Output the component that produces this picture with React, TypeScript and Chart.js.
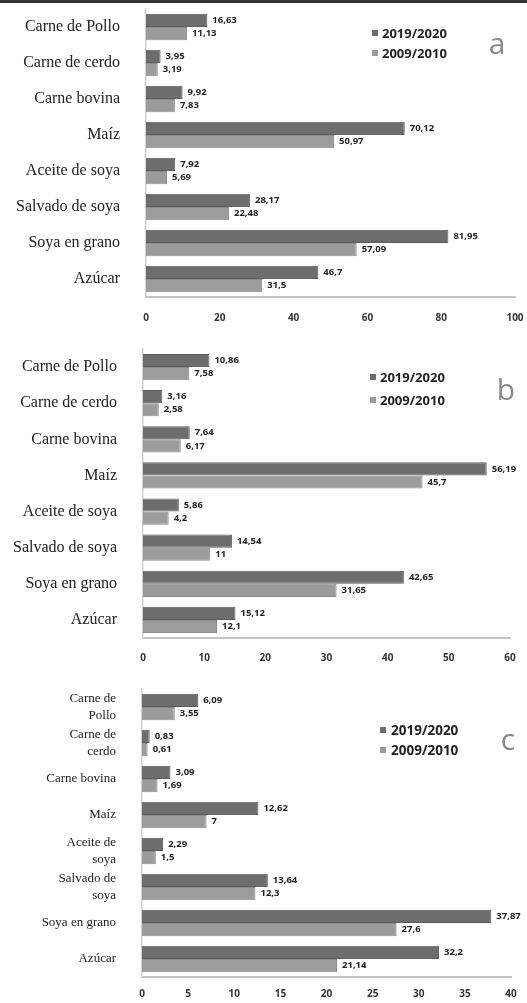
import React, { useEffect, useRef } from "react";
import { Chart, registerables } from "chart.js";

Chart.register(...registerables);

const seriesNames = ["2019/2020", "2009/2010"];
const categoriesAB = [
  "Carne de Pollo",
  "Carne de cerdo",
  "Carne bovina",
  "Maíz",
  "Aceite de soya",
  "Salvado de soya",
  "Soya en grano",
  "Azúcar",
];
const categoriesC = [
  ["Carne de", "Pollo"],
  ["Carne de", "cerdo"],
  "Carne bovina",
  "Maíz",
  ["Aceite de", "soya"],
  ["Salvado de", "soya"],
  "Soya en grano",
  "Azúcar",
];

const a2019 = [16.63, 3.95, 9.92, 70.12, 7.92, 28.17, 81.95, 46.7];
const a2009 = [11.13, 3.19, 7.83, 50.97, 5.69, 22.48, 57.09, 31.5];
const b2019 = [10.86, 3.16, 7.64, 56.19, 5.86, 14.54, 42.65, 15.12];
const b2009 = [7.58, 2.58, 6.17, 45.7, 4.2, 11, 31.65, 12.1];
const c2019 = [6.09, 0.83, 3.09, 12.62, 2.29, 13.64, 37.87, 32.2];
const c2009 = [3.55, 0.61, 1.69, 7, 1.5, 12.3, 27.6, 21.14];

const xMaxA = 100, xStepA = 20;
const xMaxB = 60, xStepB = 10;
const xMaxC = 40, xStepC = 5;

const DARK = "#6d6d6d";
const LIGHT = "#9c9c9c";

type Panel = {
  letter: string;
  labels: any[];
  s1: number[];
  s2: number[];
  max: number;
  step: number;
  top: number;
  height: number;
  padTop: number;
  yWidth: number;
  xHeight: number;
  xPad: number;
  padRight: number;
  labelFont: number;
  legend: { sx: number; tx: number; y1: number; y2: number; fs: number };
  letterPos: { x: number; y: number };
};

const panels: Panel[] = [
  {
    letter: "a", labels: categoriesAB, s1: a2019, s2: a2009, max: xMaxA, step: xStepA,
    top: 0, height: 335, padTop: 9, yWidth: 146, xHeight: 38, xPad: 15, padRight: 12, labelFont: 16,
    legend: { sx: 372, tx: 382, y1: 33, y2: 53, fs: 13 }, letterPos: { x: 497, y: 45 },
  },
  {
    letter: "b", labels: categoriesAB, s1: b2019, s2: b2009, max: xMaxB, step: xStepB,
    top: 335, height: 335, padTop: 14, yWidth: 143, xHeight: 32, xPad: 14, padRight: 17, labelFont: 16,
    legend: { sx: 370, tx: 380, y1: 42, y2: 65, fs: 13 }, letterPos: { x: 506, y: 56 },
  },
  {
    letter: "c", labels: categoriesC, s1: c2019, s2: c2009, max: xMaxC, step: xStepC,
    top: 670, height: 333, padTop: 19, yWidth: 142, xHeight: 26, xPad: 11, padRight: 16, labelFont: 13,
    legend: { sx: 380, tx: 391, y1: 60, y2: 80, fs: 13.5 }, letterPos: { x: 508, y: 71 },
  },
];

const fmt = (v: number) => String(v).replace(".", ",");

function PanelChart({ p }: { p: Panel }) {
  const ref = useRef<HTMLCanvasElement>(null);
  useEffect(() => {
    if (!ref.current) return;
    const valuePlugin = {
      id: "valueLabels",
      afterDatasetsDraw(chart: any) {
        const ctx = chart.ctx;
        ctx.save();
        ctx.font = "bold 9.5px 'Open Sans'";
        ctx.fillStyle = "#222";
        ctx.textAlign = "left";
        ctx.textBaseline = "middle";
        chart.data.datasets.forEach((ds: any, i: number) => {
          const meta = chart.getDatasetMeta(i);
          meta.data.forEach((bar: any, j: number) => {
            ctx.fillText(fmt(ds.data[j]), bar.x + 5, bar.y);
          });
        });
        ctx.restore();
      },
    };
    const legendPlugin = {
      id: "customLegend",
      afterDraw(chart: any) {
        const ctx = chart.ctx;
        ctx.save();
        const L = p.legend;
        const ys = [L.y1, L.y2];
        chart.data.datasets.forEach((ds: any, i: number) => {
          ctx.fillStyle = ds.backgroundColor;
          ctx.fillRect(L.sx, ys[i] - 3, 6, 6);
          ctx.fillStyle = "#222";
          ctx.font = `bold ${L.fs}px 'Open Sans'`;
          ctx.textAlign = "left";
          ctx.textBaseline = "middle";
          ctx.fillText(ds.label, L.tx, ys[i] + 1);
        });
        ctx.fillStyle = "#8a8a8a";
        ctx.font = "30px 'Open Sans'";
        ctx.textAlign = "center";
        ctx.textBaseline = "middle";
        ctx.fillText(p.letter, p.letterPos.x, p.letterPos.y);
        ctx.restore();
      },
    };
    const chart = new Chart(ref.current, {
      type: "bar",
      data: {
        labels: p.labels,
        datasets: [
          { label: seriesNames[0], data: p.s1, backgroundColor: DARK, borderColor: "#5c5c5c", borderWidth: 1 },
          { label: seriesNames[1], data: p.s2, backgroundColor: LIGHT, borderColor: "#8a8a8a", borderWidth: 1 },
        ],
      },
      options: {
        indexAxis: "y",
        animation: false,
        responsive: false,
        maintainAspectRatio: false,
        layout: { padding: { top: p.padTop, right: p.padRight, left: 0, bottom: 0 } },
        datasets: { bar: { categoryPercentage: 0.73, barPercentage: 1.0 } },
        plugins: { legend: { display: false }, tooltip: { enabled: false } },
        scales: {
          x: {
            min: 0,
            max: p.max,
            ticks: {
              stepSize: p.step,
              padding: p.xPad,
              color: "#333",
              font: { family: "'Open Sans'", size: 10, weight: "bold" },
            },
            grid: { display: false, drawTicks: false },
            border: { display: true, color: "#c4c4c4", width: 2 },
            afterFit: (s: any) => {
              s.height = p.xHeight;
              s.paddingLeft = 0;
              s.paddingRight = 0;
            },
          },
          y: {
            ticks: {
              autoSkip: false,
              padding: 26,
              color: "#222",
              font: { family: "'Liberation Serif'", size: p.labelFont, lineHeight: 1.3 },
            },
            grid: { display: false, drawTicks: false },
            border: { display: true, color: "#d0d0d0", width: 1.5 },
            afterFit: (s: any) => {
              s.width = p.yWidth;
              s.paddingTop = 0;
              s.paddingBottom = 0;
            },
          },
        },
      },
      plugins: [valuePlugin, legendPlugin],
    } as any);
    return () => chart.destroy();
  }, [p]);
  return (
    <canvas
      ref={ref}
      width={527}
      height={p.height}
      style={{ position: "absolute", left: 0, top: p.top, width: 527, height: p.height }}
    />
  );
}

export default function App() {
  useEffect(() => {
    document.body.style.margin = "0";
    document.body.style.background = "#fff";
  }, []);
  return (
    <div style={{ position: "relative", width: 527, height: 1003, background: "#fff", overflow: "hidden" }}>
      {panels.map((p) => (
        <PanelChart key={p.letter} p={p} />
      ))}
      <div style={{ position: "absolute", left: 0, top: 0, width: 527, height: 3, background: "#333" }} />
    </div>
  );
}
